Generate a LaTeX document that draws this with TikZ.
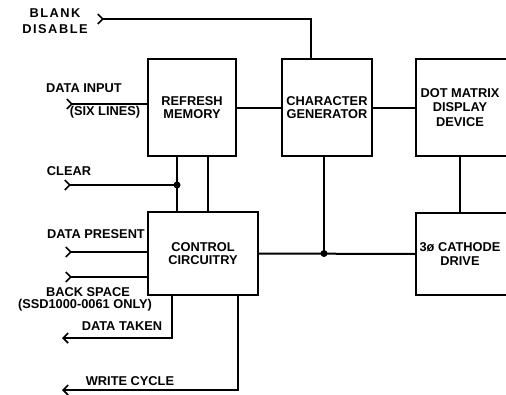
\documentclass[tikz,border=0pt]{standalone}
\usepackage{fontspec}
\setmainfont{Liberation Sans}
\usetikzlibrary{arrows.meta}
\begin{document}
\begin{tikzpicture}[x=1pt,y=-1pt,
  every node/.style={font=\bfseries\fontsize{12.8}{13.5}\selectfont, align=center, inner sep=0pt},
  blk/.style={draw, line width=1.8pt, minimum height=97pt},
  cutblk/.style={minimum height=97pt},
  wire/.style={line width=2pt},
  inw/.style={wire, {Straight Barb[reversed,length=5pt,width=10pt,line width=1.6pt]}-},
  outw/.style={wire, -{Straight Barb[length=5pt,width=10pt,line width=1.6pt]}},
  dot/.style={circle, fill, inner sep=0pt, minimum size=7pt}]
\useasboundingbox (0,0) rectangle (506,394);

% blocks
\node[blk, minimum width=88pt] (rm) at (192,107.5) {REFRESH\\MEMORY};
\node[blk, minimum width=90pt] (cg) at (327,107.5) {CHARACTER\\GENERATOR};
\node[cutblk, minimum width=88pt, font=\bfseries\fontsize{12.8}{14.5}\selectfont] (dmd) at (460,107.5) {DOT MATRIX\\DISPLAY\\DEVICE};
\node[blk, minimum width=110pt, minimum height=83pt] (cc) at (203,253.5) {CONTROL\\CIRCUITRY};
\node[cutblk, minimum width=88pt, minimum height=82pt] (cd) at (460,254) {3\o{} CATHODE\\DRIVE};
\draw[line width=1.8pt] (dmd.north west) rectangle ([xshift=30pt]dmd.south east);
\draw[line width=1.8pt] (cd.north west) rectangle ([xshift=30pt]cd.south east);

% free ends
\coordinate (bd) at (97,19);
\coordinate (di) at (66,104);
\coordinate (cl) at (64,185);
\coordinate (dp) at (65,252);
\coordinate (bs) at (65,277);
\coordinate (dt) at (62,338);
\coordinate (wc) at (62,390);

% labels
\node[font=\bfseries\fontsize{12.8}{15.5}\selectfont\addfontfeature{LetterSpace=12}] (lbd) at (55,21) {BLANK\\DISABLE};
\node (ldi) at (84,88) {DATA INPUT};
\node (lsix) at (105,112.5) {(SIX LINES)};
\node (lcl) at (69,171) {CLEAR};
\node (ldp) at (96,234) {DATA PRESENT};
\node (lbs) at (88,292) {BACK SPACE};
\node (lssd) at (85,305.5) {(SSD1000-0061 ONLY)};
\node (ldt) at (122,326) {DATA TAKEN};
\node (lwc) at (130,381) {WRITE CYCLE};

% connectors
\draw[inw] (bd) -| ([xshift=-16pt]cg.north);
\draw[inw] (di) -- (di -| rm.west);
\draw[wire] (rm.east) -- (cg.west);
\draw[wire] (cg.east) -- (dmd.west);
\draw[wire] (dmd.south) -- (cd.north);
\draw[wire] (cc.east) -- (cd.west);
\draw[wire] ([xshift=-3pt]cg.south) -- ([xshift=-3pt]cg.south |- cc.east) node[dot] (j2) {};
\draw[wire] ([xshift=-15pt]rm.south) -- ([xshift=-15pt]rm.south |- cc.north);
\draw[wire] ([xshift=16pt]rm.south) -- ([xshift=16pt]rm.south |- cc.north);
\draw[inw] (cl) -- ([xshift=-15pt]rm.south |- cl) node[dot] (j1) {};
\draw[inw] (dp) -- (dp -| cc.west);
\draw[inw] (bs) -- (bs -| cc.west);
\draw[outw] ([xshift=-31pt]cc.south) |- (dt);
\draw[outw] ([xshift=35pt]cc.south) |- (wc);
\end{tikzpicture}
\end{document}
